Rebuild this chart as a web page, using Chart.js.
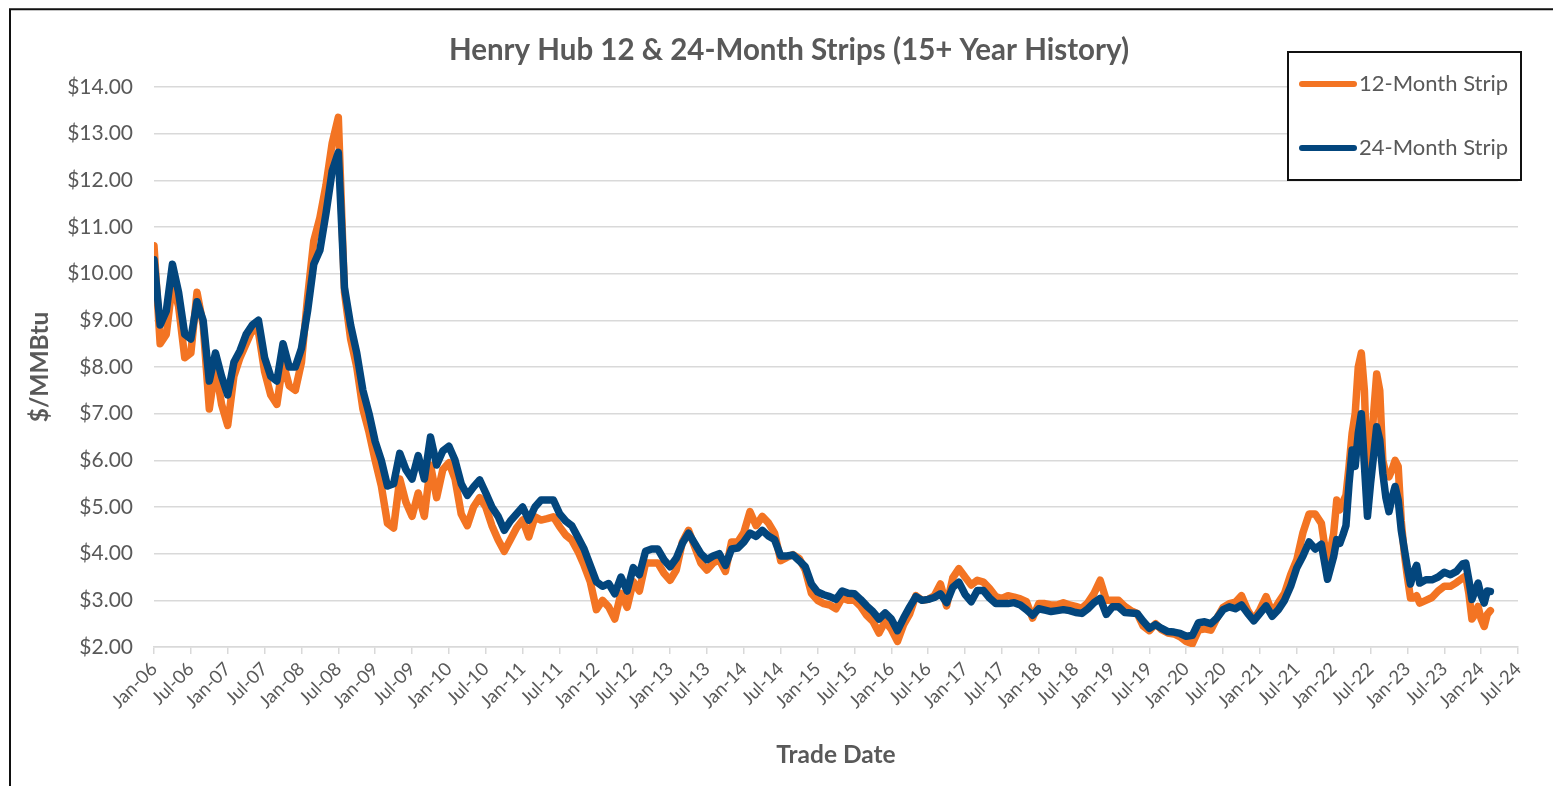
<!DOCTYPE html>
<html>
<head>
<meta charset="utf-8">
<script src="https://cdn.jsdelivr.net/npm/chart.js@4.4.1/dist/chart.umd.min.js"></script>
<style>
html,body{margin:0;padding:0;background:#fff;overflow:hidden;width:1553px;height:786px;}
#wrap{position:absolute;left:0;top:0;width:1578px;height:786px;}
canvas{display:block;}
</style>
</head>
<body>
<div id="wrap"><canvas id="chart" width="1578" height="786"></canvas></div>
<script>
// ---- Data ($/MMBtu) ----
const tradeDates = [
 '2006-01','2006-02','2006-03','2006-04','2006-05','2006-06','2006-07','2006-08','2006-09','2006-10','2006-11','2006-12',
 '2007-01','2007-02','2007-03','2007-04','2007-05','2007-06','2007-07','2007-08','2007-09','2007-10','2007-11','2007-12',
 '2008-01','2008-02','2008-03','2008-04','2008-05','2008-06','2008-07','2008-08','2008-09','2008-10','2008-11','2008-12',
 '2009-01','2009-02','2009-03','2009-04','2009-05','2009-06','2009-07','2009-08','2009-09','2009-10','2009-11','2009-12',
 '2010-01','2010-02','2010-03','2010-04','2010-05','2010-06','2010-07','2010-08','2010-09','2010-10','2010-11','2010-12',
 '2011-01','2011-02','2011-03','2011-04','2011-05','2011-06','2011-07','2011-08','2011-09','2011-10','2011-11','2011-12',
 '2012-01','2012-02','2012-03','2012-04','2012-05','2012-06','2012-07','2012-08','2012-09','2012-10','2012-11','2012-12',
 '2013-01','2013-02','2013-03','2013-04','2013-05','2013-06','2013-07','2013-08','2013-09','2013-10','2013-11','2013-12',
 '2014-01','2014-02','2014-03','2014-04','2014-05','2014-06','2014-07','2014-08','2014-09','2014-10','2014-11','2014-12',
 '2015-01','2015-02','2015-03','2015-04','2015-05','2015-06','2015-07','2015-08','2015-09','2015-10','2015-11','2015-12',
 '2016-01','2016-02','2016-03','2016-04','2016-05','2016-06','2016-07','2016-08','2016-09','2016-10','2016-11','2016-12',
 '2017-01','2017-02','2017-03','2017-04','2017-05','2017-06','2017-07','2017-08','2017-09','2017-10','2017-11','2017-12',
 '2018-01','2018-02','2018-03','2018-04','2018-05','2018-06','2018-07','2018-08','2018-09','2018-10','2018-11','2018-12',
 '2019-01','2019-02','2019-03','2019-04','2019-05','2019-06','2019-07','2019-08','2019-09','2019-10','2019-11','2019-12',
 '2020-01','2020-02','2020-03','2020-04','2020-05','2020-06','2020-07','2020-08','2020-09','2020-10','2020-11','2020-12',
 '2021-01','2021-02','2021-03','2021-04','2021-05','2021-06','2021-07','2021-08','2021-09','2021-10','2021-11','2021-12',
 '2022-01','2022-01-16','2022-02','2022-02-16','2022-03','2022-03-16','2022-04','2022-04-16','2022-05','2022-05-16','2022-06','2022-06-16',
 '2022-07','2022-07-16','2022-08','2022-08-16','2022-09','2022-09-16','2022-10','2022-10-16','2022-11','2022-11-16','2022-12','2022-12-16',
 '2023-01','2023-01-16','2023-02','2023-02-16','2023-03','2023-04','2023-05','2023-06','2023-07','2023-08','2023-09',
 '2023-10','2023-10-16','2023-11','2023-11-16','2023-12','2023-12-16',
 '2024-01','2024-01-16','2024-02','2024-02-16'
];

const strip12Month = [
 10.6, 8.5, 8.7, 9.8, 9.3, 8.2, 8.3, 9.6, 8.9, 7.1, 8.0, 7.2,
 6.75, 7.8, 8.2, 8.5, 8.8, 8.75, 7.9, 7.4, 7.2, 8.1, 7.6, 7.5,
 8.1, 9.5, 10.7, 11.2, 11.9, 12.8, 13.35, 9.6, 8.6, 8.0, 7.1, 6.6,
 6.0, 5.45, 4.65, 4.55, 5.6, 5.1, 4.8, 5.3, 4.8, 5.9, 5.2, 5.8,
 5.95, 5.6, 4.85, 4.6, 5.0, 5.2, 5.0, 4.6, 4.3, 4.05, 4.3, 4.55,
 4.72, 4.36, 4.79, 4.72, 4.75, 4.79, 4.58, 4.4, 4.29, 4.05, 3.75, 3.4,
 2.8, 3.0, 2.86, 2.6, 3.15, 2.85, 3.4, 3.2, 3.8, 3.8, 3.8, 3.58,
 3.43, 3.65, 4.25, 4.5, 4.15, 3.8, 3.65, 3.8, 3.87, 3.62, 4.25, 4.25,
 4.45, 4.9, 4.6, 4.8, 4.66, 4.44, 3.85, 3.92, 3.98, 3.9, 3.65, 3.15,
 3.0, 2.93, 2.9, 2.82, 3.05, 3.0, 3.0, 2.87, 2.68, 2.55, 2.3, 2.55,
 2.38, 2.12, 2.48, 2.71, 3.1, 3.0, 3.02, 3.1, 3.35, 2.88, 3.48, 3.68,
 3.5, 3.33, 3.43, 3.39, 3.25, 3.08, 3.04, 3.1, 3.07, 3.03, 2.97, 2.62,
 2.93, 2.93, 2.9, 2.9, 2.95, 2.9, 2.87, 2.83, 2.95, 3.15, 3.43, 3.0,
 3.0, 3.0, 2.87, 2.78, 2.72, 2.45, 2.35, 2.5, 2.37, 2.3, 2.28, 2.22,
 2.12, 2.07, 2.36, 2.39, 2.36, 2.62, 2.85, 2.93, 2.96, 3.1, 2.79, 2.58,
 2.8, 3.08, 2.73, 2.95, 3.15, 3.55, 3.87, 4.45, 4.85, 4.85, 4.65, 3.75,
 4.44, 5.15, 4.94, 5.1, 5.25, 5.87, 6.58, 7.0, 8.0, 8.3, 7.5, 5.6,
 6.1, 7.0, 7.85, 7.5, 6.0, 5.7, 5.65, 5.8, 6.0, 5.87, 4.7, 4.0,
 3.5, 3.05, 3.05, 3.1, 2.94, 3.0, 3.06, 3.2, 3.3, 3.3, 3.38,
 3.48, 3.52, 3.15, 2.6, 2.7, 2.87,
 2.6, 2.44, 2.7, 2.78
];

const strip24Month = [
 10.3, 8.9, 9.2, 10.2, 9.6, 8.7, 8.6, 9.4, 9.0, 7.7, 8.3, 7.8,
 7.4, 8.1, 8.35, 8.7, 8.9, 9.0, 8.2, 7.8, 7.7, 8.5, 8.0, 8.0,
 8.4, 9.2, 10.2, 10.5, 11.3, 12.2, 12.6, 9.7, 8.9, 8.3, 7.5, 7.0,
 6.4, 6.0, 5.45, 5.5, 6.15, 5.8, 5.6, 6.1, 5.6, 6.5, 5.9, 6.2,
 6.3, 6.0, 5.5, 5.25, 5.43, 5.58, 5.3, 5.0, 4.8, 4.5, 4.7, 4.85,
 5.0, 4.72, 5.0, 5.15, 5.15, 5.15, 4.86, 4.7, 4.6, 4.35, 4.1, 3.75,
 3.4, 3.3, 3.36, 3.14, 3.5, 3.2, 3.7, 3.55, 4.05, 4.1, 4.1, 3.87,
 3.72, 3.9, 4.22, 4.44, 4.22, 4.0, 3.87, 3.95, 4.0, 3.75, 4.1, 4.12,
 4.25, 4.44, 4.37, 4.5, 4.38, 4.3, 3.95, 3.95, 3.97, 3.85, 3.72, 3.35,
 3.18, 3.12, 3.08, 3.02, 3.2, 3.15, 3.14, 3.02, 2.88, 2.76, 2.6, 2.73,
 2.6, 2.35, 2.62, 2.86, 3.08, 3.0, 3.02, 3.06, 3.14, 2.95, 3.28, 3.39,
 3.13, 2.97, 3.21, 3.21, 3.05, 2.93, 2.93, 2.93, 2.95, 2.9, 2.8, 2.68,
 2.82, 2.79, 2.76, 2.78, 2.8, 2.78, 2.74, 2.72, 2.82, 2.95, 3.04, 2.7,
 2.86, 2.86, 2.74, 2.73, 2.72, 2.55, 2.4, 2.48, 2.4, 2.33, 2.32, 2.29,
 2.23, 2.25, 2.52, 2.54, 2.5, 2.62, 2.8, 2.86, 2.82, 2.9, 2.72, 2.56,
 2.72, 2.88, 2.66, 2.8, 3.0, 3.3, 3.7, 3.95, 4.25, 4.1, 4.2, 3.45,
 3.94, 4.3, 4.22, 4.4, 4.6, 5.5, 6.22, 5.87, 6.58, 7.0, 5.9, 4.8,
 5.5, 6.1, 6.72, 6.44, 5.72, 5.2, 4.9, 5.2, 5.44, 5.15, 4.5, 4.1,
 3.7, 3.35, 3.6, 3.75, 3.37, 3.44, 3.44, 3.5, 3.6, 3.55, 3.62,
 3.78, 3.8, 3.44, 3.02, 3.2, 3.37,
 3.1, 2.94, 3.2, 3.19
];

const tickLabels = [
 'Jan-06','Jul-06','Jan-07','Jul-07','Jan-08','Jul-08','Jan-09','Jul-09','Jan-10','Jul-10',
 'Jan-11','Jul-11','Jan-12','Jul-12','Jan-13','Jul-13','Jan-14','Jul-14','Jan-15','Jul-15',
 'Jan-16','Jul-16','Jan-17','Jul-17','Jan-18','Jul-18','Jan-19','Jul-19','Jan-20','Jul-20',
 'Jan-21','Jul-21','Jan-22','Jul-22','Jan-23','Jul-23','Jan-24','Jul-24'
];

const seriesNames = ['12-Month Strip', '24-Month Strip'];
const titleText = 'Henry Hub 12 & 24-Month Strips (15+ Year History)';

// ---- helpers ----
const ORANGE = '#F37423';
const BLUE = '#03467D';
const GRID = '#D9D9D9';
const TEXT = '#595959';
const FONT = 'Lato, "Open Sans", sans-serif';

function monthIndex(d) {
  const p = d.split('-').map(Number);
  const day = p[2] || 1;
  return (p[0] - 2006) * 12 + (p[1] - 1) + (day - 1) / 30;
}
const xs = tradeDates.map(monthIndex);
const pts = arr => arr.map((v, i) => ({ x: xs[i], y: v }));

// frame + custom boxed legend
const framePlugin = {
  id: 'frame',
  beforeDraw(chart) {
    const ctx = chart.ctx;
    ctx.save();
    ctx.fillStyle = '#fff';
    ctx.fillRect(0, 0, chart.width, chart.height);
    ctx.restore();
  },
  afterDraw(chart) {
    const ctx = chart.ctx;
    ctx.save();
    ctx.strokeStyle = '#111';
    ctx.lineWidth = 2;
    ctx.beginPath();
    ctx.moveTo(10, chart.height + 5);
    ctx.lineTo(10, 9.3);
    ctx.lineTo(chart.width + 5, 9.3);
    ctx.stroke();

    // legend box
    const bx = 1288, by = 52, bw = 233, bh = 128;
    ctx.fillStyle = '#fff';
    ctx.fillRect(bx, by, bw, bh);
    ctx.lineWidth = 2;
    ctx.strokeStyle = '#111';
    ctx.strokeRect(bx, by, bw, bh);
    const rows = [84, 148];
    chart.data.datasets.forEach((ds, i) => {
      const y = rows[i];
      ctx.strokeStyle = ds.borderColor;
      ctx.lineWidth = 6;
      ctx.lineCap = 'round';
      ctx.beginPath();
      ctx.moveTo(1302, y);
      ctx.lineTo(1354, y);
      ctx.stroke();
      ctx.fillStyle = TEXT;
      ctx.font = '22px ' + FONT;
      ctx.textBaseline = 'middle';
      ctx.textAlign = 'left';
      ctx.fillText(ds.label, 1359, y);
    });
    ctx.restore();
  }
};

new Chart(document.getElementById('chart'), {
  type: 'line',
  data: {
    datasets: [
      { label: seriesNames[0], data: pts(strip12Month), borderColor: ORANGE, backgroundColor: ORANGE,
        borderWidth: 7.5, pointRadius: 0, borderJoinStyle: 'round', borderCapStyle: 'round', tension: 0, order: 2 },
      { label: seriesNames[1], data: pts(strip24Month), borderColor: BLUE, backgroundColor: BLUE,
        borderWidth: 7.5, pointRadius: 0, borderJoinStyle: 'round', borderCapStyle: 'round', tension: 0, order: 1 }
    ]
  },
  options: {
    responsive: false,
    animation: false,
    devicePixelRatio: 1,
    layout: { padding: { left: 60, right: 60, top: 0, bottom: 0 } },
    plugins: {
      legend: { display: false },
      tooltip: { enabled: false },
      title: {
        display: true,
        text: titleText,
        color: TEXT,
        font: { family: FONT, size: 29.5, weight: 'bold', lineHeight: 1.2 },
        padding: { top: 32.3, bottom: 19.3 }
      }
    },
    scales: {
      x: {
        type: 'linear',
        min: 0,
        max: 222,
        afterBuildTicks: axis => { axis.ticks = tickLabels.map((_, i) => ({ value: i * 6 })); },
        afterFit: s => { s.height = 139; },
        ticks: {
          autoSkip: false,
          minRotation: 45,
          maxRotation: 45,
          padding: 4,
          color: TEXT,
          font: { family: FONT, size: 18.5 },
          callback: (v, i) => tickLabels[i]
        },
        grid: { drawOnChartArea: false, drawTicks: true, tickLength: 7, color: GRID, lineWidth: 1.5 },
        border: { display: true, color: GRID, width: 1.5 },
        title: {
          display: true,
          text: 'Trade Date',
          color: TEXT,
          font: { family: FONT, size: 24.5, weight: 'bold', lineHeight: 1.2 },
          padding: { top: 0, bottom: 16.3 }
        }
      },
      y: {
        min: 2,
        max: 14,
        afterFit: s => { s.width = 94; },
        ticks: {
          stepSize: 1,
          padding: 21,
          color: TEXT,
          font: { family: FONT, size: 21 },
          callback: v => '$' + Number(v).toFixed(2)
        },
        grid: { color: GRID, lineWidth: 1.5, drawTicks: false },
        border: { display: false },
        title: {
          display: true,
          text: '$/MMBtu',
          color: TEXT,
          font: { family: FONT, size: 24.5, weight: 'bold', lineHeight: 1.2 },
          padding: { top: -34.7, bottom: 0 }
        }
      }
    }
  },
  plugins: [framePlugin]
});
</script>
</body>
</html>
